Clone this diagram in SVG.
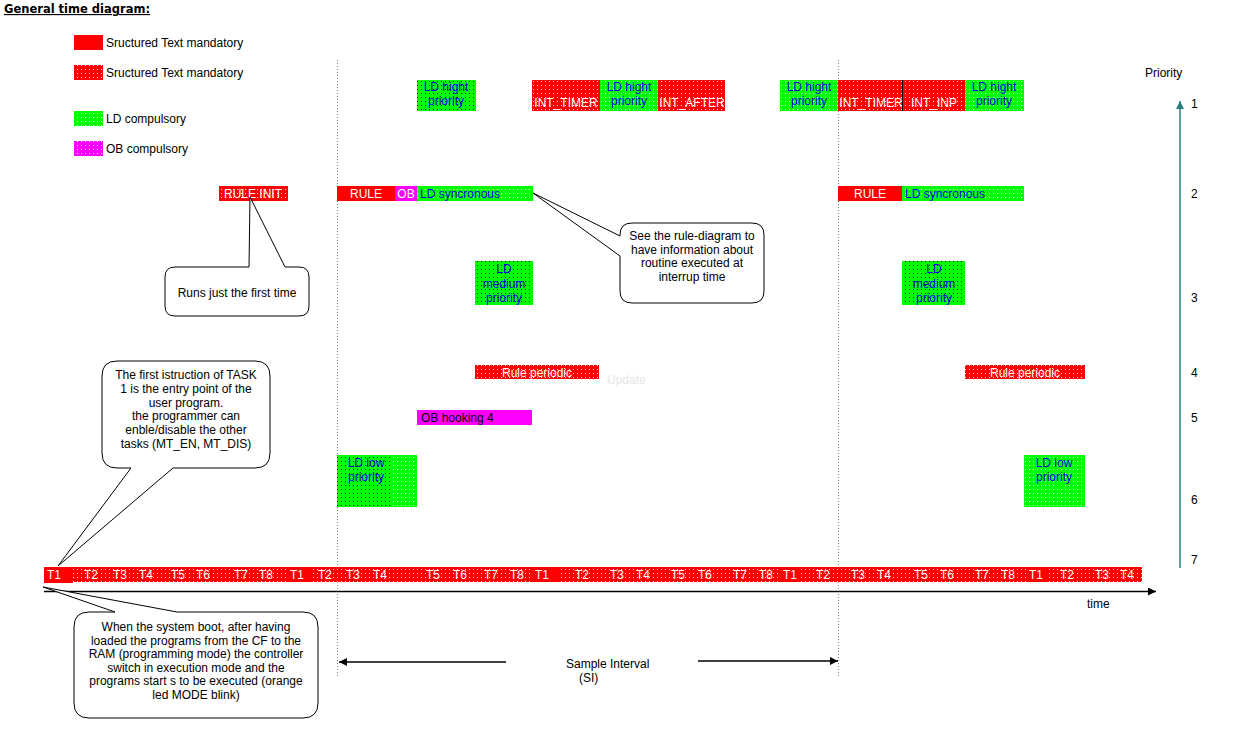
<svg xmlns="http://www.w3.org/2000/svg" width="1235" height="733" viewBox="0 0 1235 733">
<style>
text{font-family:"Liberation Sans",Arial,sans-serif;font-size:12px;fill:#000}
.w{fill:#fff}
.b{fill:#0000e6}
.c{text-anchor:middle}
.call{fill:#fff;stroke:#000;stroke-width:1}
.dot{stroke:#808080;stroke-width:1;stroke-dasharray:1 2;fill:none}
.ln{stroke:#000;stroke-width:1.5;fill:none}
.title{font-family:"DejaVu Sans",Verdana,sans-serif;font-weight:bold;font-size:11.5px;text-decoration:underline}
.lite{fill:#e6e6e6}
</style>
<defs>
<pattern id="pR" width="4" height="4" patternUnits="userSpaceOnUse"><rect width="4" height="4" fill="#ff0000"/><rect x="1" y="1" width="1" height="1" fill="#fff"/></pattern>
<pattern id="pGk" width="4" height="4" patternUnits="userSpaceOnUse"><rect width="4" height="4" fill="#00ff00"/><rect x="1" y="1" width="1" height="1" fill="#000"/></pattern>
<pattern id="pGw" width="4" height="4" patternUnits="userSpaceOnUse"><rect width="4" height="4" fill="#00ff00"/><rect x="1" y="1" width="1" height="1" fill="#fff"/></pattern>
<pattern id="pM" width="4" height="4" patternUnits="userSpaceOnUse"><rect width="4" height="4" fill="#ff00ff"/><rect x="1" y="1" width="1" height="1" fill="#fff"/></pattern>
<marker id="ah" viewBox="0 0 8 8" refX="8" refY="4" markerWidth="8" markerHeight="8" markerUnits="userSpaceOnUse" orient="auto"><path d="M0,0 L8,4 L0,8 Z" fill="#000"/></marker>
<marker id="aht" viewBox="0 0 8 8" refX="8" refY="4" markerWidth="8" markerHeight="8" markerUnits="userSpaceOnUse" orient="auto"><path d="M0,0 L8,4 L0,8 Z" fill="#2a8080"/></marker>
</defs>
<rect width="1235" height="733" fill="#fff"/>

<text class="title" x="4" y="13">General time diagram:</text>

<g id="legend">
<rect x="74" y="35" width="29" height="15" fill="#ff0000"/>
<text x="106" y="47">Sructured Text mandatory</text>
<rect x="74" y="65" width="29" height="15" fill="url(#pR)"/>
<text x="106" y="77">Sructured Text mandatory</text>
<rect x="74" y="111" width="29" height="15" fill="url(#pGw)"/>
<text x="106" y="123">LD compulsory</text>
<rect x="74" y="141" width="29" height="15" fill="url(#pM)"/>
<text x="106" y="153">OB compulsory</text>
</g>

<g id="connectors">
<line class="dot" x1="337.5" y1="60" x2="337.5" y2="676"/>
<line class="dot" x1="838.5" y1="60" x2="838.5" y2="676"/>
<line x1="44" y1="591.5" x2="1156" y2="591.5" stroke="#000" stroke-width="1.5" marker-end="url(#ah)"/>
<line x1="1180" y1="568" x2="1180" y2="101" stroke="#2a8080" stroke-width="1.5" marker-end="url(#aht)"/>
<line x1="506" y1="662" x2="339" y2="662" stroke="#000" stroke-width="1.5" marker-end="url(#ah)"/>
<line x1="698" y1="661" x2="838" y2="661" stroke="#000" stroke-width="1.5" marker-end="url(#ah)"/>
</g>

<g id="axis-labels">
<text x="1145" y="77">Priority</text>
<text x="1191" y="108">1</text>
<text x="1191" y="198">2</text>
<text x="1191" y="302">3</text>
<text x="1191" y="377">4</text>
<text x="1191" y="422">5</text>
<text x="1191" y="504">6</text>
<text x="1191" y="564">7</text>
<text x="1087" y="608">time</text>
<text x="566" y="668">Sample Interval</text>
<text x="579" y="682">(SI)</text>
</g>

<g id="row1-a">
<rect x="417" y="80" width="59" height="31" fill="url(#pGk)"/>
<text class="b c" x="446" y="91">LD hight</text>
<text class="b c" x="446" y="105">priority</text>
</g>
<g id="int-timer-a">
<rect x="532" y="80" width="68" height="31" fill="url(#pR)"/>
<text class="w c" x="566" y="107">INT_TIMER</text>
</g>
<g id="row1-b">
<rect x="600" y="80" width="58" height="31" fill="url(#pGw)"/>
<text class="b c" x="629" y="91">LD hight</text>
<text class="b c" x="629" y="105">priority</text>
</g>
<g id="int-after">
<rect x="658" y="80" width="67" height="31" fill="url(#pR)"/>
<text class="w c" x="692" y="107">INT_AFTER</text>
</g>
<g id="row1-c">
<rect x="780" y="80" width="58" height="31" fill="url(#pGw)"/>
<text class="b c" x="809" y="91">LD hight</text>
<text class="b c" x="809" y="105">priority</text>
</g>
<g id="int-timer-b">
<rect x="838" y="80" width="64" height="31" fill="url(#pR)"/>
<text class="w c" x="871" y="107">INT_TIMER</text>
</g>
<g id="int-inp">
<rect x="902" y="80" width="63" height="31" fill="url(#pR)"/>
<line x1="902.5" y1="80" x2="902.5" y2="111" stroke="#000" stroke-width="1"/>
<text class="w c" x="934" y="107">INT_INP</text>
</g>
<g id="row1-d">
<rect x="965" y="80" width="59" height="31" fill="url(#pGw)"/>
<text class="b c" x="994" y="91">LD hight</text>
<text class="b c" x="994" y="105">priority</text>
</g>

<g id="rule-init">
<rect x="219" y="186" width="69" height="15" fill="url(#pR)"/>
<text class="w c" x="253" y="198">RULE INIT</text>
</g>
<g id="rule-a">
<rect x="337" y="186" width="58" height="15" fill="#ff0000"/>
<text class="w c" x="366" y="198">RULE</text>
</g>
<g id="ob-a">
<rect x="395" y="186" width="22" height="15" fill="#ff00ff"/>
<text class="w c" x="406" y="198">OB</text>
</g>
<g id="ld-sync-a">
<rect x="417" y="186" width="116" height="15" fill="url(#pGw)"/>
<text class="b" x="420" y="198">LD syncronous</text>
</g>
<g id="rule-b">
<rect x="838" y="186" width="64" height="15" fill="#ff0000"/>
<text class="w c" x="870" y="198">RULE</text>
</g>
<g id="ld-sync-b">
<rect x="902" y="186" width="122" height="15" fill="url(#pGw)"/>
<text class="b" x="905" y="198">LD syncronous</text>
</g>

<g id="ld-medium-a">
<rect x="475" y="261" width="58" height="44" fill="url(#pGk)"/>
<text class="b c" x="504" y="273">LD</text>
<text class="b c" x="504" y="288">medium</text>
<text class="b c" x="504" y="302">priority</text>
</g>
<g id="ld-medium-b">
<rect x="902" y="261" width="63" height="44" fill="url(#pGk)"/>
<text class="b c" x="934" y="273">LD</text>
<text class="b c" x="934" y="288">medium</text>
<text class="b c" x="934" y="302">priority</text>
</g>

<g id="rule-periodic-a">
<rect x="475" y="365" width="124" height="14" fill="url(#pR)"/>
<text class="w c" x="537" y="377">Rule periodic</text>
</g>
<text class="lite" x="607" y="384">Update</text>
<g id="rule-periodic-b">
<rect x="965" y="365" width="120" height="14" fill="url(#pR)"/>
<text class="w c" x="1025" y="377">Rule periodic</text>
</g>

<g id="ob-hooking">
<rect x="417" y="410" width="115" height="15" fill="#ff00ff"/>
<text x="421" y="422">OB hooking 4</text>
</g>

<g id="ld-low-a">
<rect x="337" y="455" width="53" height="52" fill="url(#pGk)"/>
<rect x="390" y="455" width="27" height="52" fill="url(#pGw)"/>
<text class="b c" x="366" y="467">LD low</text>
<text class="b c" x="366" y="481">priority</text>
</g>
<g id="ld-low-b">
<rect x="1024" y="455" width="61" height="52" fill="url(#pGw)"/>
<text class="b c" x="1054" y="467">LD low</text>
<text class="b c" x="1054" y="481">priority</text>
</g>

<g id="timeline">
<rect x="44" y="567" width="1098" height="15" fill="url(#pR)"/>
<rect x="44" y="567" width="29" height="16" fill="#ff0000"/>
<rect x="288" y="567" width="22" height="15" fill="#ff0000"/>
<rect x="530" y="567" width="28" height="15" fill="#ff0000"/>
<rect x="779" y="567" width="22" height="15" fill="#ff0000"/>
<rect x="1027" y="567" width="21" height="15" fill="#ff0000"/>
<g class="w">
<text class="w c" x="54" y="579">T1</text>
<text class="w c" x="91" y="579">T2</text>
<text class="w c" x="120" y="579">T3</text>
<text class="w c" x="146" y="579">T4</text>
<text class="w c" x="178" y="579">T5</text>
<text class="w c" x="203" y="579">T6</text>
<text class="w c" x="241" y="579">T7</text>
<text class="w c" x="266" y="579">T8</text>
<text class="w c" x="297" y="579">T1</text>
<text class="w c" x="325" y="579">T2</text>
<text class="w c" x="353" y="579">T3</text>
<text class="w c" x="380" y="579">T4</text>
<text class="w c" x="433" y="579">T5</text>
<text class="w c" x="460" y="579">T6</text>
<text class="w c" x="491" y="579">T7</text>
<text class="w c" x="517" y="579">T8</text>
<text class="w c" x="542" y="579">T1</text>
<text class="w c" x="582" y="579">T2</text>
<text class="w c" x="617" y="579">T3</text>
<text class="w c" x="643" y="579">T4</text>
<text class="w c" x="678" y="579">T5</text>
<text class="w c" x="705" y="579">T6</text>
<text class="w c" x="740" y="579">T7</text>
<text class="w c" x="766" y="579">T8</text>
<text class="w c" x="790" y="579">T1</text>
<text class="w c" x="823" y="579">T2</text>
<text class="w c" x="858" y="579">T3</text>
<text class="w c" x="884" y="579">T4</text>
<text class="w c" x="921" y="579">T5</text>
<text class="w c" x="947" y="579">T6</text>
<text class="w c" x="982" y="579">T7</text>
<text class="w c" x="1008" y="579">T8</text>
<text class="w c" x="1036" y="579">T1</text>
<text class="w c" x="1067" y="579">T2</text>
<text class="w c" x="1102" y="579">T3</text>
<text class="w c" x="1127" y="579">T4</text>
</g>
</g>

<g id="callout-runs">
<path class="call" d="M175,267 L249,267 L250,197 L285,267 L299,267 Q309,267 309,277 L309,306 Q309,316 299,316 L175,316 Q165,316 165,306 L165,277 Q165,267 175,267 Z"/>
<text class="c" x="237" y="297">Runs just the first time</text>
</g>

<g id="callout-rule">
<path class="call" d="M632,223 L752,223 Q764,223 764,235 L764,291 Q764,303 752,303 L632,303 Q620,303 620,291 L620,256 L533,193 L620,236 L620,235 Q620,223 632,223 Z"/>
<text class="c" x="692" y="240">See the rule-diagram to</text>
<text class="c" x="692" y="254">have information about</text>
<text class="c" x="692" y="267">routine executed at</text>
<text class="c" x="692" y="281">interrup time</text>
</g>

<g id="callout-task1">
<path class="call" d="M117,361 L255,361 Q270,361 270,376 L270,453 Q270,468 255,468 L173,468 L58,566 L131,468 L117,468 Q102,468 102,453 L102,376 Q102,361 117,361 Z"/>
<text class="c" x="186" y="379">The first istruction of TASK</text>
<text class="c" x="186" y="393">1 is the entry point of the</text>
<text class="c" x="186" y="407">user program.</text>
<text class="c" x="186" y="420">the programmer can</text>
<text class="c" x="186" y="434">enble/disable the other</text>
<text class="c" x="186" y="448">tasks (MT_EN, MT_DIS)</text>
</g>

<g id="callout-boot">
<path class="call" d="M89,612 L115,612 L43,587 L177,612 L303,612 Q318,612 318,627 L318,703 Q318,718 303,718 L89,718 Q74,718 74,703 L74,627 Q74,612 89,612 Z"/>
<text class="c" x="196" y="631">When the system boot, after having</text>
<text class="c" x="196" y="645">loaded the programs from the CF to the</text>
<text class="c" x="196" y="658">RAM (programming mode) the controller</text>
<text class="c" x="196" y="672">switch in execution mode and the</text>
<text class="c" x="196" y="685">programs start s to be executed (orange</text>
<text class="c" x="196" y="699">led MODE blink)</text>
</g>
</svg>
